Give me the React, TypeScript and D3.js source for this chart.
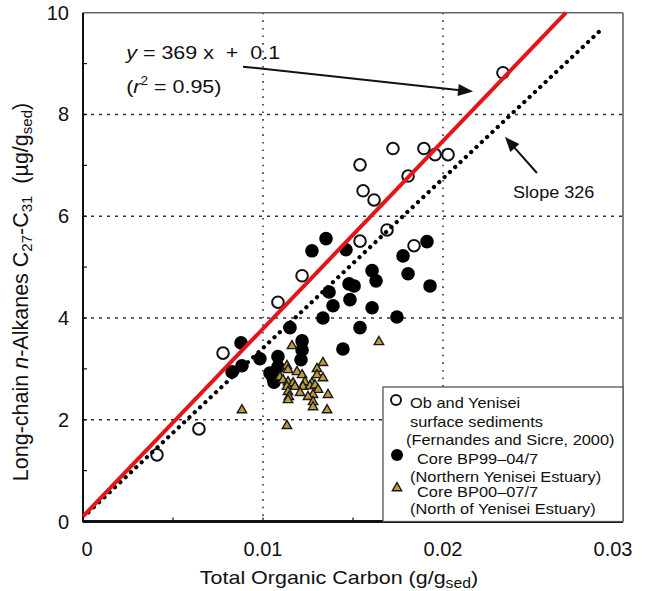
import React from 'react';
import * as d3 from 'd3';

const W = 647;
const H = 591;

// axis ticks
const xTickValues = [0, 0.01, 0.02, 0.03];
const xTickLabels = ['0', '0.01', '0.02', '0.03'];
const yTickValues = [0, 2, 4, 6, 8, 10];
const yTickLabels = ['0', '2', '4', '6', '8', '10'];
const xMinorTicks = [0.005, 0.01, 0.015, 0.02, 0.025];
const yMinorTicks = [1, 2, 3, 4, 5, 6, 7, 8, 9];
const xGrid = [0.01, 0.02];
const yGrid = [2, 4, 6, 8];

// Ob and Yenisei surface sediments (open circles)
const obX = [0.00411, 0.00644, 0.00778, 0.01083, 0.01217, 0.01539, 0.01689, 0.01839, 0.01539, 0.01556, 0.01617, 0.01722, 0.01806, 0.01894, 0.01956, 0.02028, 0.02333];
const obY = [1.31, 1.82, 3.31, 4.31, 4.83, 5.51, 5.73, 5.42, 7.01, 6.5, 6.32, 7.33, 6.79, 7.33, 7.21, 7.21, 8.82];

// Core BP99-04/7 (filled circles)
const bp99X = [0.0135, 0.01272, 0.01461, 0.01911, 0.01778, 0.01806, 0.01928, 0.01606, 0.01628, 0.01478, 0.01506, 0.01367, 0.01483, 0.01389, 0.01606, 0.01333, 0.01744, 0.01539, 0.0115, 0.01444, 0.01217, 0.01217, 0.01211, 0.01083, 0.01083, 0.00878, 0.00983, 0.00883, 0.00828, 0.01039, 0.01061, 0.01056];
const bp99Y = [5.56, 5.32, 5.34, 5.5, 5.22, 4.87, 4.63, 4.93, 4.73, 4.67, 4.63, 4.51, 4.36, 4.24, 4.2, 4.0, 4.02, 3.81, 3.81, 3.39, 3.55, 3.37, 3.18, 3.24, 3.04, 3.51, 3.2, 3.06, 2.94, 2.92, 2.74, 2.82];

// Core BP00-07/7 (triangles)
const bp00X = [0.01161, 0.01333, 0.01133, 0.01139, 0.01189, 0.01217, 0.013, 0.013, 0.01333, 0.01094, 0.01111, 0.01139, 0.01167, 0.01233, 0.01272, 0.01133, 0.01178, 0.01222, 0.01261, 0.01289, 0.01306, 0.01139, 0.01206, 0.01278, 0.01361, 0.01144, 0.0125, 0.01139, 0.01278, 0.01278, 0.01356, 0.00883, 0.01133, 0.01644];
const bp00Y = [3.45, 3.12, 3.06, 2.98, 2.94, 2.88, 3.0, 2.88, 2.82, 2.84, 2.78, 2.74, 2.72, 2.74, 2.72, 2.65, 2.65, 2.65, 2.66, 2.68, 2.59, 2.55, 2.53, 2.49, 2.49, 2.45, 2.45, 2.39, 2.35, 2.25, 2.19, 2.19, 1.88, 3.53];

// regression lines
const redSlope = 369;
const redIntercept = 0.1;
const dotSlope = 333;
const dotIntercept = 0.08;
const dotXMax = 0.0288;

// annotation arrows (data space)
const eqArrow = [[0.00889, 8.94], [0.02167, 8.45]];
const slopeArrow = [[0.02522, 6.85], [0.02344, 7.56]];

const legendLabels = [
  ['Ob and Yenisei', 'surface sediments', '(Fernandes and Sicre, 2000)'],
  ['Core BP99\u201304/7', '(Northern Yenisei Estuary)'],
  ['Core BP00\u201307/7', '(North of Yenisei Estuary)'],
];

const FONT = '"Liberation Sans", Arial, Helvetica, sans-serif';
const SX = 1.13; // horizontal stretch of the original figure's lettering

function Arrow({ pts, x, y }: any) {
  const [x1, y1] = [x(pts[0][0]), y(pts[0][1])];
  const [x2, y2] = [x(pts[1][0]), y(pts[1][1])];
  const a = Math.atan2(y2 - y1, x2 - x1);
  const L = 15, Wd = 6;
  const bx = x2 - L * Math.cos(a), by = y2 - L * Math.sin(a);
  const head = [
    [x2, y2],
    [bx + Wd * Math.sin(a), by - Wd * Math.cos(a)],
    [bx - Wd * Math.sin(a), by + Wd * Math.cos(a)],
  ];
  return (
    <g>
      <line x1={x1} y1={y1} x2={bx + 2 * Math.cos(a)} y2={by + 2 * Math.sin(a)} stroke="#111" strokeWidth={2} />
      <polygon points={head.map((p) => p.join(',')).join(' ')} fill="#111" />
    </g>
  );
}

function SText({ x, y, size, children, anchor }: any) {
  return (
    <text transform={`translate(${x},${y}) scale(${SX},1)`} fontSize={size} fill="#111" textAnchor={anchor || 'start'} style={{ whiteSpace: 'pre' }}>
      {children}
    </text>
  );
}

export default function App() {
  const left = 83, right = 623, top = 12.7, bottom = 521.5;
  const x = d3.scaleLinear().domain([0, 0.03]).range([left, right]);
  const y = d3.scaleLinear().domain([0, 10]).range([bottom, top]);

  const redX2 = (10 - redIntercept) / redSlope;
  const redLine = d3.line<number>().x((d) => x(d)).y((d) => y(redSlope * d + redIntercept));
  const dotLine = d3.line<number>().x((d) => x(d)).y((d) => y(dotSlope * d + dotIntercept));
  const tri = d3.symbol().type(d3.symbolTriangle).size(38)() as string;

  const legX = 383, legY = 387;
  const LF = 14.5;

  return (
    <svg width={W} height={H} style={{ position: 'absolute', left: 0, top: 0, background: '#fff' }} fontFamily={FONT}>
      {/* grid */}
      {yGrid.map((v) => (
        <line key={'gy' + v} x1={left} x2={right} y1={y(v)} y2={y(v)} stroke="#333" strokeWidth={1.4} strokeDasharray="3,5" />
      ))}
      {xGrid.map((v) => (
        <line key={'gx' + v} x1={x(v)} x2={x(v)} y1={top} y2={bottom} stroke="#333" strokeWidth={1.6} strokeDasharray="1.6,6" />
      ))}
      {/* frame */}
      <line x1={left} x2={right} y1={top} y2={top} stroke="#666" strokeWidth={1.6} />
      <line x1={right} x2={right} y1={top} y2={bottom} stroke="#666" strokeWidth={1.6} />
      <line x1={left} x2={left} y1={top} y2={bottom + 1} stroke="#111" strokeWidth={2} />
      <line x1={left} x2={right} y1={bottom} y2={bottom} stroke="#111" strokeWidth={3} />
      {yMinorTicks.map((v) => (
        <line key={'ty' + v} x1={left} x2={left + 4} y1={y(v)} y2={y(v)} stroke="#111" strokeWidth={1.2} />
      ))}
      {xMinorTicks.map((v) => (
        <line key={'tx' + v} x1={x(v)} x2={x(v)} y1={bottom} y2={bottom - 4} stroke="#111" strokeWidth={1.2} />
      ))}
      {/* tick labels */}
      {yTickValues.map((v, i) => (
        <text key={'ly' + v} x={left - 14} y={y(v) + 7} textAnchor="end" fontSize={20} fill="#111">{yTickLabels[i]}</text>
      ))}
      {xTickValues.map((v, i) => (
        <text key={'lx' + v} x={x(v) + (i === 0 ? 4 : i === 3 ? -10 : 0)} y={bottom + 34} textAnchor="middle" fontSize={20} fill="#111">{xTickLabels[i]}</text>
      ))}
      {/* axis titles */}
      <SText x={x(0.015) - 14} y={H - 7} size={19} anchor="middle">
        {'Total Organic Carbon (g/g'}
        <tspan fontSize={14} dy={4}>sed</tspan>
        <tspan dy={-4}>)</tspan>
      </SText>
      <text transform={`translate(28,292) rotate(-90)`} textAnchor="middle" fontSize={21.5} fill="#111" style={{ whiteSpace: 'pre' }}>
        {'Long-chain '}
        <tspan fontStyle="italic">n</tspan>
        <tspan>{'-Alkanes C'}</tspan>
        <tspan fontSize={15} dy={4}>27</tspan>
        <tspan dy={-4}>{'-C'}</tspan>
        <tspan fontSize={15} dy={4}>31</tspan>
        <tspan dy={-4}>{'  (\u00b5g/g'}</tspan>
        <tspan fontSize={15} dy={4}>sed</tspan>
        <tspan dy={-4}>)</tspan>
      </text>

      {/* points */}
      {obX.map((v, i) => (
        <circle key={'o' + i} cx={x(v)} cy={y(obY[i])} r={5.8} fill="#fff" stroke="#111" strokeWidth={2} />
      ))}
      {bp99X.map((v, i) => (
        <circle key={'f' + i} cx={x(v)} cy={y(bp99Y[i])} r={6.8} fill="#000" />
      ))}
      {bp00X.map((v, i) => (
        <path key={'t' + i} d={tri} transform={`translate(${x(v)},${y(bp00Y[i])})`} fill="#bf9a3a" stroke="#1a1a1a" strokeWidth={1.4} />
      ))}

      {/* lines */}
      <path d={dotLine([0.0003, dotXMax]) || ''} fill="none" stroke="#000" strokeWidth={4.2} strokeDasharray="0.1,7.2" strokeLinecap="round" />
      <path d={redLine([0, redX2]) || ''} fill="none" stroke="#e3151b" strokeWidth={4} />

      {/* annotations */}
      <SText x={x(0.0024)} y={y(9.09)} size={19}>
        <tspan fontStyle="italic">y</tspan>
        {' = 369 x  +  0.1'}
      </SText>
      <SText x={x(0.0024)} y={y(8.43)} size={19}>
        {'('}
        <tspan fontStyle="italic">r</tspan>
        <tspan fontSize={12} dy={-8}>2</tspan>
        <tspan dy={8}>{' = 0.95)'}</tspan>
      </SText>
      <Arrow pts={eqArrow} x={x} y={y} />
      <Arrow pts={slopeArrow} x={x} y={y} />
      <SText x={x(0.02389)} y={y(6.36)} size={16}>Slope 326</SText>

      {/* legend */}
      <rect x={legX} y={legY} width={right - legX} height={bottom - legY} fill="#fff" stroke="#555" strokeWidth={1.3} />
      <circle cx={legX + 13} cy={legY + 13} r={5} fill="#fff" stroke="#111" strokeWidth={2} />
      <SText x={legX + 27} y={legY + 21} size={LF}>{legendLabels[0][0]}</SText>
      <SText x={legX + 27} y={legY + 39.5} size={LF}>{legendLabels[0][1]}</SText>
      <SText x={legX + 23} y={legY + 58} size={LF}>{legendLabels[0][2]}</SText>
      <circle cx={legX + 14} cy={legY + 68} r={6} fill="#000" />
      <SText x={legX + 34} y={legY + 77} size={LF}>{legendLabels[1][0]}</SText>
      <SText x={legX + 27} y={legY + 95} size={LF}>{legendLabels[1][1]}</SText>
      <path d={tri} transform={`translate(${legX + 14},${legY + 101})`} fill="#bf9a3a" stroke="#1a1a1a" strokeWidth={1.4} />
      <SText x={legX + 34} y={legY + 110} size={LF}>{legendLabels[2][0]}</SText>
      <SText x={legX + 27} y={legY + 127} size={LF}>{legendLabels[2][1]}</SText>
    </svg>
  );
}
